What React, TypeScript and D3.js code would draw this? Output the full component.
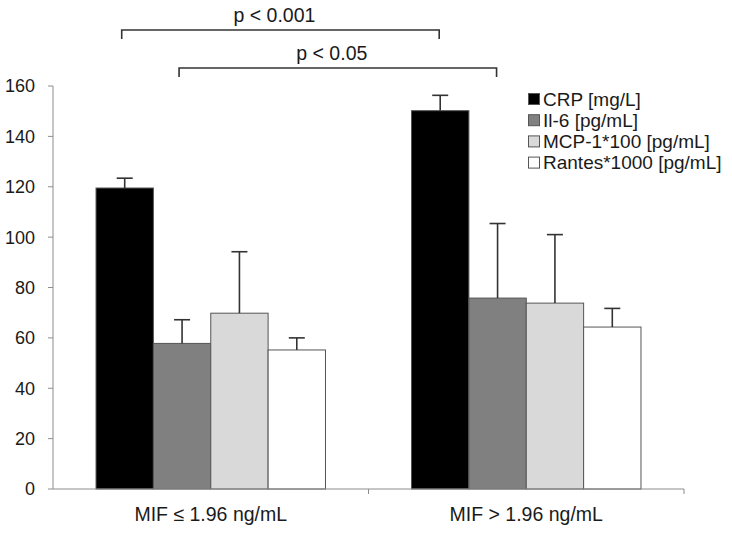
import React, { useRef, useEffect } from "react";
import * as d3 from "d3";

// groups on the x axis
const categories = ["MIF \u2264 1.96 ng/mL", "MIF > 1.96 ng/mL"];
// series names for the legend
const seriesNames = [
  "CRP [mg/L]",
  "Il-6 [pg/mL]",
  "MCP-1*100 [pg/mL]",
  "Rantes*1000 [pg/mL]",
];
const seriesColors = ["#000000", "#808080", "#d9d9d9", "#ffffff"];
// mean values, one array per series: [low MIF, high MIF]
const crpValues = [119.5, 150.2];
const il6Values = [57.8, 75.8];
const mcpValues = [69.8, 73.8];
const rantesValues = [55.2, 64.3];
// upper end of the error bars
const crpErrTop = [123.4, 156.3];
const il6ErrTop = [67.2, 105.4];
const mcpErrTop = [94.2, 101];
const rantesErrTop = [60, 71.7];
const yTicks = [0, 20, 40, 60, 80, 100, 120, 140, 160];
// significance brackets: which series in each group, and label
const brackets = [
  { series: 0, label: "p < 0.001", level: 0 },
  { series: 1, label: "p < 0.05", level: 1 },
];

const App = () => {
  const svgRef = useRef<SVGSVGElement>(null);

  useEffect(() => {
    const svg = d3.select(svgRef.current);
    svg.selectAll("*").remove();

    const font = "'Liberation Sans', Arial, sans-serif";
    const axisColor = "#8c8c8c";
    const textColor = "#1a1a1a";
    const margin = { top: 86, left: 53, right: 48, bottom: 46 };
    const width = 732;
    const height = 535;

    const values = [crpValues, il6Values, mcpValues, rantesValues];
    const errTops = [crpErrTop, il6ErrTop, mcpErrTop, rantesErrTop];

    const x0 = d3
      .scaleBand()
      .domain(categories)
      .range([margin.left, width - margin.right])
      .paddingInner(0)
      .paddingOuter(0);

    // Excel-style gap width of 150%: each category holds 4 bars + 1.5 bar of gap
    const bw = x0.bandwidth() / 5.5;
    const barX = (ci, si) => x0(categories[ci]) + bw * 0.75 + si * bw;

    const y = d3
      .scaleLinear()
      .domain([0, 160])
      .range([height - margin.bottom, margin.top]);

    // y axis
    const yAxis = svg.append("g").attr("transform", `translate(${margin.left},0)`);
    yAxis
      .append("line")
      .attr("x1", 0)
      .attr("x2", 0)
      .attr("y1", y(0))
      .attr("y2", y(160))
      .attr("stroke", axisColor);
    yAxis
      .selectAll(".tick")
      .data(yTicks)
      .join("line")
      .attr("x1", -5)
      .attr("x2", 0)
      .attr("y1", (d) => y(d))
      .attr("y2", (d) => y(d))
      .attr("stroke", axisColor);
    yAxis
      .selectAll(".lbl")
      .data(yTicks)
      .join("text")
      .attr("x", -18)
      .attr("y", (d) => y(d))
      .attr("dy", "0.36em")
      .attr("text-anchor", "end")
      .attr("font-family", font)
      .attr("font-size", 18)
      .attr("fill", textColor)
      .text((d) => d);

    // bars
    values.forEach((vals, si) => {
      svg
        .append("g")
        .selectAll("rect")
        .data(vals)
        .join("rect")
        .attr("x", (d, ci) => barX(ci, si))
        .attr("y", (d) => y(d))
        .attr("width", bw)
        .attr("height", (d) => y(0) - y(d))
        .attr("fill", seriesColors[si])
        .attr("stroke", "#555")
        .attr("stroke-width", 1);
    });

    // error bars
    values.forEach((vals, si) => {
      const g = svg.append("g").attr("stroke", "#333").attr("stroke-width", 1.6);
      vals.forEach((v, ci) => {
        const cx = barX(ci, si) + bw / 2;
        const top = errTops[si][ci];
        g.append("line")
          .attr("x1", cx)
          .attr("x2", cx)
          .attr("y1", y(v))
          .attr("y2", y(top));
        g.append("line")
          .attr("x1", cx - 8)
          .attr("x2", cx + 8)
          .attr("y1", y(top))
          .attr("y2", y(top));
      });
    });

    // x axis
    const xAxisY = y(0);
    svg
      .append("line")
      .attr("x1", margin.left)
      .attr("x2", width - margin.right)
      .attr("y1", xAxisY)
      .attr("y2", xAxisY)
      .attr("stroke", axisColor);
    const bounds = [...categories.map((c) => x0(c)), x0(categories[1]) + x0.bandwidth()];
    svg
      .append("g")
      .selectAll("line")
      .data(bounds.slice(1))
      .join("line")
      .attr("x1", (d) => d)
      .attr("x2", (d) => d)
      .attr("y1", xAxisY)
      .attr("y2", xAxisY + 5)
      .attr("stroke", axisColor);
    svg
      .append("g")
      .selectAll("text")
      .data(categories)
      .join("text")
      .attr("x", (d) => x0(d) + x0.bandwidth() / 2)
      .attr("y", 521)
      .attr("text-anchor", "middle")
      .attr("font-family", font)
      .attr("font-size", 19.5)
      .attr("fill", textColor)
      .text((d) => d);

    // significance brackets
    brackets.forEach((b) => {
      const xa = barX(0, b.series) + bw / 2 - 3;
      const xb = barX(1, b.series) + bw / 2 - 1;
      const by = 30 + b.level * 38;
      svg
        .append("path")
        .attr("d", `M${xa},${by + 9}V${by}H${xb}V${by + 9}`)
        .attr("fill", "none")
        .attr("stroke", "#333")
        .attr("stroke-width", 1.6);
      svg
        .append("text")
        .attr("x", (xa + xb) / 2 - 6)
        .attr("y", by - 8)
        .attr("text-anchor", "middle")
        .attr("font-family", font)
        .attr("font-size", 19.5)
        .attr("fill", textColor)
        .text(b.label);
    });

    // legend
    const legend = svg.append("g").attr("transform", "translate(528,99)");
    const rows = legend
      .selectAll("g")
      .data(seriesNames)
      .join("g")
      .attr("transform", (d, i) => `translate(0,${i * 21.2})`);
    rows
      .append("rect")
      .attr("x", 0.5)
      .attr("y", -5.5)
      .attr("width", 11)
      .attr("height", 11)
      .attr("fill", (d, i) => seriesColors[i])
      .attr("stroke", "#555");
    rows
      .append("text")
      .attr("x", 15)
      .attr("y", 0)
      .attr("dy", "0.36em")
      .attr("font-family", font)
      .attr("font-size", 19)
      .attr("fill", textColor)
      .text((d) => d);
  }, []);

  return (
    <div style={{ position: "absolute", left: 0, top: 0 }}>
      <svg ref={svgRef} width={732} height={535} style={{ display: "block", background: "#fff" }} />
    </div>
  );
};

export default App;
